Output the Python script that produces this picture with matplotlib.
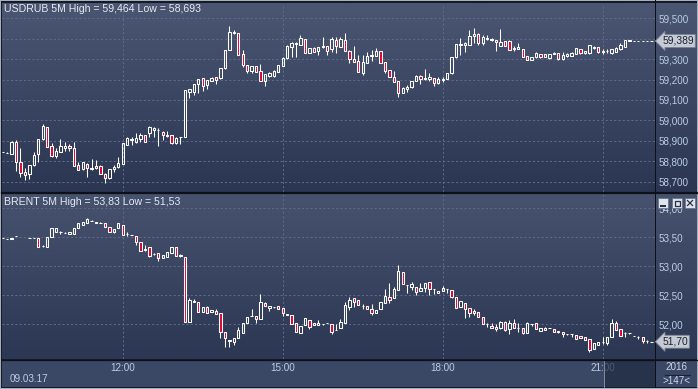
import numpy as np
import matplotlib.pyplot as plt
import matplotlib.transforms as mtransforms
from matplotlib.patches import Rectangle
from matplotlib.colors import to_rgb

# ---- data: 5 minute candles, first bar 09:45, 147 bars ----
time_ticks = [27, 63, 99, 135]
time_labels = ["12:00", "15:00", "18:00", "21:00"]

usd_open = [58.846, 58.842, 58.838, 58.895, 58.797, 58.747, 58.737, 58.781, 58.835, 58.907,
            58.966, 58.876, 58.825, 58.846, 58.863, 58.876, 58.863, 58.781, 58.760, 58.789,
            58.765, 58.776, 58.778, 58.740, 58.716, 58.760, 58.770, 58.789, 58.882, 58.905,
            58.895, 58.907, 58.928, 58.940, 58.953, 58.951, 58.944, 58.923, 58.928, 58.887,
            58.917, 58.920, 59.141, 59.141, 59.176, 59.206, 59.173, 59.194, 59.211, 59.206,
            59.255, 59.345, 59.426, 59.426, 59.325, 59.271, 59.243, 59.266, 59.242, 59.194,
            59.217, 59.217, 59.239, 59.268, 59.304, 59.361, 59.373, 59.369, 59.397, 59.332,
            59.353, 59.342, 59.358, 59.364, 59.348, 59.394, 59.361, 59.394, 59.342, 59.299,
            59.291, 59.234, 59.283, 59.315, 59.317, 59.340, 59.284, 59.247, 59.211, 59.193,
            59.136, 59.152, 59.162, 59.193, 59.219, 59.201, 59.201, 59.206, 59.181, 59.198,
            59.203, 59.230, 59.309, 59.369, 59.369, 59.369, 59.413, 59.422, 59.381, 59.400,
            59.400, 59.394, 59.364, 59.389, 59.391, 59.350, 59.351, 59.348, 59.315, 59.296,
            59.309, 59.324, 59.324, 59.304, 59.325, 59.328, 59.299, 59.317, 59.315, 59.325,
            59.348, 59.328, 59.328, 59.356, 59.358, 59.337, 59.338, 59.328, 59.337, 59.348,
            59.361, 59.391, 59.390, 59.389, 59.389, 59.389, 59.389]
usd_high = [58.847, 58.843, 58.897, 58.904, 58.863, 58.765, 58.783, 58.846, 58.909, 58.982,
            58.969, 58.891, 58.866, 58.907, 58.895, 58.884, 58.895, 58.797, 58.797, 58.792,
            58.809, 58.806, 58.781, 58.742, 58.762, 58.781, 58.822, 58.889, 58.920, 58.917,
            58.936, 58.940, 58.930, 58.972, 58.969, 58.961, 58.949, 58.949, 58.930, 58.917,
            58.921, 59.151, 59.156, 59.180, 59.205, 59.208, 59.200, 59.211, 59.213, 59.257,
            59.347, 59.464, 59.443, 59.428, 59.345, 59.273, 59.268, 59.268, 59.276, 59.229,
            59.236, 59.245, 59.273, 59.309, 59.368, 59.383, 59.383, 59.418, 59.399, 59.355,
            59.358, 59.360, 59.407, 59.366, 59.407, 59.407, 59.407, 59.426, 59.344, 59.364,
            59.320, 59.320, 59.337, 59.345, 59.353, 59.342, 59.286, 59.249, 59.242, 59.195,
            59.162, 59.173, 59.195, 59.221, 59.221, 59.252, 59.230, 59.208, 59.211, 59.211,
            59.232, 59.311, 59.376, 59.402, 59.386, 59.443, 59.451, 59.426, 59.418, 59.418,
            59.402, 59.396, 59.448, 59.391, 59.393, 59.364, 59.377, 59.350, 59.317, 59.311,
            59.337, 59.326, 59.326, 59.327, 59.337, 59.330, 59.333, 59.332, 59.334, 59.355,
            59.350, 59.342, 59.371, 59.363, 59.360, 59.348, 59.348, 59.350, 59.358, 59.377,
            59.396, 59.396, 59.391, 59.390, 59.390, 59.390, 59.390]
usd_low = [58.845, 58.841, 58.836, 58.753, 58.724, 58.708, 58.712, 58.779, 58.797, 58.905,
           58.869, 58.822, 58.814, 58.843, 58.851, 58.851, 58.776, 58.755, 58.757, 58.724,
           58.757, 58.762, 58.738, 58.693, 58.712, 58.748, 58.768, 58.787, 58.879, 58.879,
           58.887, 58.895, 58.893, 58.920, 58.920, 58.877, 58.904, 58.917, 58.885, 58.885,
           58.884, 58.918, 59.108, 59.124, 59.136, 59.145, 59.152, 59.192, 59.178, 59.204,
           59.253, 59.343, 59.424, 59.318, 59.263, 59.230, 59.230, 59.237, 59.192, 59.168,
           59.215, 59.215, 59.237, 59.266, 59.302, 59.312, 59.309, 59.367, 59.330, 59.330,
           59.333, 59.320, 59.356, 59.320, 59.337, 59.332, 59.359, 59.340, 59.279, 59.286,
           59.237, 59.222, 59.281, 59.292, 59.315, 59.281, 59.230, 59.212, 59.188, 59.113,
           59.134, 59.141, 59.160, 59.191, 59.178, 59.199, 59.194, 59.168, 59.179, 59.190,
           59.201, 59.228, 59.307, 59.320, 59.337, 59.367, 59.381, 59.369, 59.369, 59.394,
           59.391, 59.342, 59.362, 59.362, 59.343, 59.342, 59.348, 59.310, 59.294, 59.294,
           59.307, 59.307, 59.309, 59.302, 59.324, 59.297, 59.297, 59.309, 59.313, 59.323,
           59.326, 59.326, 59.326, 59.348, 59.331, 59.325, 59.330, 59.326, 59.335, 59.346,
           59.359, 59.389, 59.389, 59.388, 59.388, 59.388, 59.388]
usd_close = [58.846, 58.842, 58.895, 58.797, 58.743, 58.735, 58.781, 58.830, 58.907, 58.972,
             58.871, 58.825, 58.850, 58.874, 58.876, 58.863, 58.778, 58.757, 58.794, 58.768,
             58.764, 58.765, 58.740, 58.716, 58.760, 58.773, 58.792, 58.887, 58.912, 58.907,
             58.912, 58.928, 58.895, 58.969, 58.964, 58.953, 58.928, 58.928, 58.887, 58.915,
             58.920, 59.149, 59.154, 59.178, 59.203, 59.168, 59.198, 59.209, 59.198, 59.255,
             59.345, 59.431, 59.435, 59.320, 59.271, 59.243, 59.266, 59.239, 59.194, 59.227,
             59.234, 59.243, 59.271, 59.307, 59.366, 59.381, 59.381, 59.402, 59.332, 59.353,
             59.337, 59.358, 59.364, 59.342, 59.397, 59.366, 59.399, 59.342, 59.299, 59.288,
             59.239, 59.288, 59.315, 59.320, 59.342, 59.283, 59.243, 59.214, 59.190, 59.136,
             59.160, 59.162, 59.193, 59.219, 59.201, 59.206, 59.211, 59.181, 59.203, 59.203,
             59.230, 59.309, 59.374, 59.374, 59.377, 59.413, 59.422, 59.377, 59.407, 59.405,
             59.394, 59.386, 59.386, 59.364, 59.345, 59.356, 59.358, 59.312, 59.296, 59.309,
             59.328, 59.309, 59.312, 59.325, 59.332, 59.299, 59.320, 59.324, 59.332, 59.353,
             59.328, 59.340, 59.369, 59.361, 59.333, 59.340, 59.342, 59.348, 59.356, 59.369,
             59.394, 59.394, 59.390, 59.389, 59.389, 59.389, 59.389]

nan = float("nan")
brent_open = [53.483, 53.477, 53.471, 53.523, nan, nan, 53.494, 53.483, 53.483, 53.351,
              53.339, 53.500, 53.586, 53.586, 53.580, 53.557, 53.552, 53.655, 53.713, 53.741,
              53.787, 53.753, 53.753, 53.741, 53.684, 53.598, 53.655, 53.713, 53.552, 53.540,
              53.523, 53.425, 53.293, 53.328, 53.213, 53.236, 53.138, 53.167, 53.224, 53.328,
              53.195, 53.155, 52.034, 52.379, 52.379, 52.218, 52.305, 52.218, 52.236, 52.190,
              51.874, 51.730, 51.701, 51.759, 51.856, 52.017, 52.149, 52.144, 52.086, 52.362,
              52.276, 52.290, 52.316, 52.282, 52.178, 52.155, 52.017, 51.845, 51.989, 52.075,
              51.989, 51.995, 52.000, 52.029, 52.006, 51.902, 51.931, 52.029, 52.305, 52.448,
              52.420, 52.322, 52.316, 52.264, 52.201, 52.259, 52.374, 52.466, 52.448, 52.592,
              52.908, 52.678, 52.638, 52.649, 52.575, 52.621, 52.724, 52.603, 52.575, 52.575,
              52.603, 52.592, 52.466, 52.305, 52.374, 52.276, 52.236, 52.218, 52.121, 52.006,
              51.977, 51.960, 51.931, 52.034, 51.920, 52.017, 51.943, 51.931, 51.845, 52.006,
              52.017, 51.891, 51.902, 51.943, 51.914, 51.891, 51.874, 51.828, 51.833, 51.816,
              51.805, 51.776, 51.741, 51.569, 51.644, 51.701, 51.672, 51.787, 52.017, 51.914,
              51.845, 51.845, 51.805, 51.787, 51.787, 51.718, 51.701]
brent_high = [53.485, 53.479, 53.496, 53.525, nan, nan, 53.496, 53.485, 53.485, 53.360,
              53.513, 53.657, 53.657, 53.615, 53.584, 53.600, 53.657, 53.743, 53.772, 53.830,
              53.791, 53.772, 53.757, 53.743, 53.686, 53.640, 53.743, 53.715, 53.598, 53.543,
              53.525, 53.427, 53.368, 53.330, 53.224, 53.238, 53.197, 53.255, 53.330, 53.330,
              53.213, 53.157, 52.448, 52.431, 52.381, 52.295, 52.316, 52.249, 52.259, 52.192,
              51.876, 51.732, 51.761, 51.948, 52.019, 52.134, 52.264, 52.146, 52.523, 52.385,
              52.318, 52.307, 52.318, 52.284, 52.180, 52.157, 52.019, 51.973, 52.105, 52.077,
              52.031, 52.075, 52.010, 52.031, 52.008, 52.006, 52.086, 52.391, 52.466, 52.450,
              52.422, 52.351, 52.318, 52.351, 52.249, 52.381, 52.615, 52.707, 52.649, 53.017,
              52.910, 52.680, 52.724, 52.651, 52.707, 52.709, 52.726, 52.605, 52.577, 52.661,
              52.605, 52.594, 52.468, 52.404, 52.376, 52.278, 52.259, 52.220, 52.123, 52.029,
              52.017, 52.006, 52.063, 52.063, 52.075, 52.086, 52.017, 51.933, 52.046, 52.008,
              52.019, 51.933, 51.948, 51.945, 51.916, 51.893, 51.876, 51.830, 51.835, 51.818,
              51.807, 51.778, 51.743, 51.674, 51.703, 51.776, 51.789, 52.086, 52.063, 51.916,
              51.874, 51.847, 51.807, 51.795, 51.789, 51.725, 51.703]
brent_low = [53.481, 53.475, 53.469, 53.521, nan, nan, 53.492, 53.481, 53.326, 53.340,
             53.337, 53.498, 53.584, 53.552, 53.578, 53.555, 53.550, 53.653, 53.711, 53.739,
             53.785, 53.751, 53.751, 53.670, 53.596, 53.569, 53.653, 53.538, 53.523, 53.538,
             53.368, 53.268, 53.270, 53.167, 53.200, 53.098, 53.136, 53.165, 53.222, 53.176,
             53.167, 52.032, 52.032, 52.377, 52.216, 52.216, 52.199, 52.216, 52.176, 51.759,
             51.615, 51.615, 51.644, 51.757, 51.854, 52.015, 52.145, 52.029, 52.084, 52.320,
             52.236, 52.288, 52.262, 52.149, 52.156, 52.004, 51.860, 51.843, 51.987, 51.914,
             51.987, 51.993, 51.990, 52.025, 51.828, 51.899, 51.929, 52.027, 52.247, 52.305,
             52.331, 52.259, 52.257, 52.161, 52.199, 52.257, 52.372, 52.374, 52.446, 52.590,
             52.693, 52.534, 52.592, 52.500, 52.573, 52.563, 52.500, 52.523, 52.532, 52.573,
             52.534, 52.448, 52.285, 52.303, 52.115, 52.132, 52.161, 52.119, 51.998, 51.960,
             51.929, 51.885, 51.914, 51.891, 51.828, 51.929, 51.874, 51.828, 51.843, 51.971,
             51.912, 51.889, 51.900, 51.939, 51.872, 51.845, 51.776, 51.824, 51.787, 51.739,
             51.757, 51.728, 51.530, 51.567, 51.642, 51.661, 51.644, 51.785, 51.900, 51.803,
             51.787, 51.841, 51.801, 51.747, 51.684, 51.684, 51.699]
brent_close = [53.483, 53.477, 53.494, 53.523, nan, nan, 53.494, 53.483, 53.328, 53.350,
               53.511, 53.655, 53.655, 53.588, 53.582, 53.598, 53.655, 53.741, 53.770, 53.810,
               53.789, 53.770, 53.755, 53.672, 53.598, 53.638, 53.741, 53.540, 53.550, 53.541,
               53.425, 53.270, 53.282, 53.178, 53.212, 53.138, 53.195, 53.253, 53.328, 53.178,
               53.185, 52.034, 52.420, 52.408, 52.218, 52.293, 52.201, 52.247, 52.178, 51.874,
               51.759, 51.718, 51.759, 51.902, 52.017, 52.132, 52.151, 52.086, 52.379, 52.322,
               52.316, 52.305, 52.264, 52.190, 52.158, 52.006, 51.862, 51.971, 52.103, 51.960,
               52.029, 52.020, 51.998, 52.027, 51.874, 51.901, 52.040, 52.333, 52.420, 52.391,
               52.333, 52.320, 52.259, 52.201, 52.247, 52.379, 52.489, 52.420, 52.603, 52.920,
               52.695, 52.676, 52.690, 52.563, 52.621, 52.707, 52.609, 52.601, 52.534, 52.621,
               52.601, 52.466, 52.287, 52.402, 52.259, 52.201, 52.190, 52.121, 52.000, 52.004,
               51.931, 51.914, 52.040, 51.902, 52.017, 51.931, 51.941, 51.856, 52.017, 52.004,
               51.914, 51.931, 51.931, 51.941, 51.874, 51.862, 51.833, 51.826, 51.831, 51.741,
               51.759, 51.730, 51.552, 51.672, 51.701, 51.703, 51.787, 52.017, 51.902, 51.805,
               51.843, 51.843, 51.803, 51.785, 51.718, 51.716, 51.700]

# y ticks; the 59,400 label sits under the last-price tag in the original
usd_ticks = [58.7, 58.8, 58.9, 59.0, 59.1, 59.2, 59.3, 59.4, 59.5]
usd_tick_labels = ['58,700', '58,800', '58,900', '59,000', '59,100', '59,200', '59,300', '', '59,500']
brent_ticks = [52.0, 52.5, 53.0, 53.5, 54.0]
brent_tick_labels = ['52,00', '52,50', '53,00', '53,50', '54,00']

# ---- look ----
W, H = 698, 389
RED = '#dc0632'
GRID = '#5e6b88'
LABEL = '#bccde4'
FONT = 'Liberation Sans'


def px_axes(fig, x0, y0, x1, y1, **kw):
    """axes from pixel box (top-left origin)"""
    return fig.add_axes([x0 / W, 1 - y1 / H, (x1 - x0) / W, (y1 - y0) / H], **kw)


def gradient(ax, x0, y0, x1, y1, top, bottom):
    c0 = np.array(to_rgb(top))
    c1 = np.array(to_rgb(bottom))
    t = np.linspace(0, 1, 64)[:, None, None]
    img = c0 * (1 - t) + c1 * t
    ax.imshow(img, extent=(x0, x1, y1, y0), aspect='auto', interpolation='bilinear', zorder=1)


def draw_candles(ax, o, h, l, c):
    o, h, l, c = (np.array(v, float) for v in (o, h, l, c))
    x = np.arange(len(o))
    ok = ~np.isnan(o)
    x, o, h, l, c = x[ok], o[ok], h[ok], l[ok], c[ok]
    lo = np.minimum(o, c)
    hi = np.maximum(o, c)
    up = c >= o
    ax.vlines(x, l, lo, color='white', lw=0.75)
    ax.vlines(x, hi, h, color='white', lw=0.75)
    ax.bar(x[up], (hi - lo)[up], bottom=lo[up], width=0.52,
           facecolor='none', edgecolor='white', linewidth=0.75)
    ax.bar(x[~up], (hi - lo)[~up], bottom=lo[~up], width=0.52,
           facecolor=RED, edgecolor='white', linewidth=0.75)


def style_panel(ax, ticks, labels, ylim):
    ax.set_facecolor('none')
    for s in ax.spines.values():
        s.set_visible(False)
    ax.set_xlim(-0.16, 146.77)
    ax.set_ylim(*ylim)
    ax.set_yticks(ticks)
    ax.set_yticklabels(labels, fontfamily=FONT)
    ax.yaxis.tick_right()
    ax.tick_params(axis='y', length=0, pad=2.3, labelsize=7.1, labelcolor=LABEL)
    ax.set_xticks(time_ticks)
    ax.grid(True, color=GRID, linestyle=(0, (2.2, 2.2)), linewidth=0.7)
    ax.set_axisbelow(True)


def price_tag(ax, value, text):
    tr = mtransforms.blended_transform_factory(ax.transAxes, ax.transData)
    ax.text(1.011, value, text, transform=tr, ha='left', va='center',
            fontsize=7.4, family=FONT, color='#1d2333', clip_on=False, zorder=20,
            bbox=dict(boxstyle='larrow,pad=0.14', fc='#c6cad3', ec='#7b8396', lw=0.6))


fig = plt.figure(figsize=(W / 100, H / 100), dpi=100)
fig.patch.set_facecolor('#a7aebd')

# background: frame, gradients, separators
bg = fig.add_axes([0, 0, 1, 1], zorder=-1)
bg.add_patch(Rectangle((1, 1), W - 2, H - 2, fc='#151a26', ec='none', zorder=0))
gradient(bg, 2, 3, 697, 192, '#4a5672', '#2b3752')
gradient(bg, 2, 194, 697, 359, '#46526e', '#2c3853')
bg.add_patch(Rectangle((2, 360), 695, 27, fc='#3b4865', ec='none', zorder=2))
bg.add_patch(Rectangle((655, 0), 1, 388, fc='#0d1018', ec='none', zorder=3))
bg.set_xlim(0, W)
bg.set_ylim(H, 0)
bg.axis('off')

ax1 = px_axes(fig, 2, 4, 655, 192)
ax2 = px_axes(fig, 2, 194, 655, 359)

style_panel(ax1, usd_ticks, usd_tick_labels, (58.6495, 59.570))
style_panel(ax2, brent_ticks, brent_tick_labels, (51.402, 54.247))
ax1.tick_params(axis='x', length=0, labelbottom=False)
ax2.set_xticklabels(time_labels, fontfamily=FONT)
ax2.tick_params(axis='x', length=0, pad=3.2, labelsize=7.1, labelcolor=LABEL)

draw_candles(ax1, usd_open, usd_high, usd_low, usd_close)
draw_candles(ax2, brent_open, brent_high, brent_low, brent_close)

price_tag(ax1, usd_close[-1], '59,389')
price_tag(ax2, brent_close[-1], '51,70')

# overlay: titles, window buttons, bottom strip extras
ov = fig.add_axes([0, 0, 1, 1], zorder=5)
ov.set_xlim(0, W)
ov.set_ylim(H, 0)
ov.axis('off')
ov.text(4, 8.5, 'USDRUB 5M High = 59,464 Low = 58,693', fontsize=7.6, family=FONT,
        color='#e6ebf3', va='center')
ov.text(4, 202, 'BRENT 5M High = 53,83 Low = 51,53', fontsize=7.6, family=FONT,
        color='#e6ebf3', va='center')
ov.text(10, 379.5, '09.03.17', fontsize=7.1, family=FONT, color=LABEL, va='center')

# dark slider box over the last hour of the time strip
ov.add_patch(Rectangle((604, 360), 51, 27, fc='#1f2940', ec='none', alpha=0.7))
ov.plot([604, 604], [360, 387], color='#7e8aa0', lw=0.7)
ov.plot([2, 697], [359.5, 359.5], color='#0d1018', lw=0.9)
ov.plot([2, 697], [193, 193], color='#0d1018', lw=1.6)

# year / bar count box
ov.text(676.5, 367.5, '2016', fontsize=7.1, family=FONT, color='#c9d5e6', ha='center', va='center')
ov.plot([665, 690], [374.5, 374.5], color='#1a2132', lw=0.8)
ov.text(676.5, 380.5, '>147<', fontsize=7.1, family=FONT, color='#c9d5e6', ha='center', va='center')

# window buttons on the lower panel
for bx in (658, 672, 685):
    ov.add_patch(Rectangle((bx, 198), 10, 10, fc='#dfe3ea', ec='#6b7589', lw=0.6))
ov.add_patch(Rectangle((660, 204.5), 6, 2, fc='#24304a', ec='none'))
ov.add_patch(Rectangle((674.5, 200.5), 5, 5, fc='none', ec='#24304a', lw=0.9))
ov.plot([687.5, 692.5], [200.5, 205.5], color='#24304a', lw=0.9)
ov.plot([687.5, 692.5], [205.5, 200.5], color='#24304a', lw=0.9)

fig.savefig('out.png', dpi=100, facecolor=fig.get_facecolor())
